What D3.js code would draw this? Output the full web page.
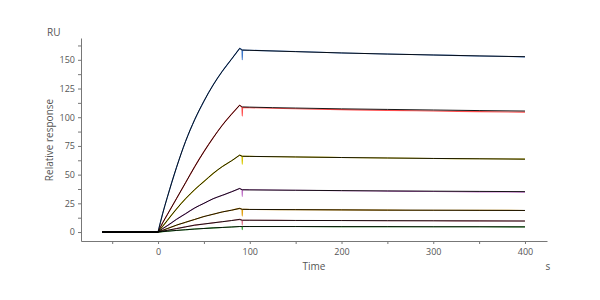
<!DOCTYPE html>
<html lang="en">
<head>
    <meta charset="UTF-8">
    <title>Relative response</title>
    <style>
        body{
            margin:0;
            background:#fff;
        }
        text{
            font-family:"Open Sans", sans-serif;
        }
    </style>
    <script src="https://cdn.jsdelivr.net/npm/d3@7/dist/d3.min.js"></script>
</head>
<body>
<div id='container'></div>
<script>
    // fitted curves (black)
    var fitTimes = [-61, 0, 5, 10, 20, 30, 40, 50, 60, 70, 80, 89, 92, 100, 150, 200, 250, 300, 350, 400];
    var fit1 = [0, 0, 16, 30, 56, 79, 98, 114, 128, 140, 150.5, 160, 158.5, 158.3, 157.1, 156, 155, 154.2, 153.4, 152.7];
    var fit2 = [0, 0, 8, 15, 29, 43, 57, 70, 82, 93, 102.5, 110.5, 109, 108.8, 108, 107.3, 106.8, 106.3, 105.8, 105.4];
    var fit3 = [0, 0, 5, 10, 20, 29, 37, 44, 51, 57, 62, 67, 66, 65.9, 65.4, 64.9, 64.5, 64.1, 63.8, 63.5];
    var fit4 = [0, 0, 3, 5.5, 11, 16, 21, 25, 29, 32, 35, 38, 36.8, 36.7, 36.4, 36.1, 35.8, 35.6, 35.4, 35.2];
    var fit5 = [0, 0, 1.5, 3, 6, 8.5, 11, 13.5, 15.5, 17.5, 19, 20.6, 19.8, 19.7, 19.5, 19.3, 19.1, 19, 18.9, 18.8];
    var fit6 = [0, 0, 0.8, 1.5, 3, 4.5, 6, 7, 8, 9, 10, 11, 10.3, 10.3, 10.1, 10, 9.9, 9.8, 9.7, 9.6];
    var fit7 = [0, 0, 0.4, 0.7, 1.4, 2, 2.6, 3.1, 3.6, 4, 4.4, 4.8, 4.8, 4.8, 4.8, 4.7, 4.7, 4.6, 4.6, 4.5];

    // measured curves (coloured), with the injection spike
    var dataTimes = [-61, 0, 5, 10, 20, 30, 40, 50, 60, 70, 80, 89, 91.5, 91.8, 92.2, 100, 150, 200, 250, 300, 350, 400];
    var data1 = [0, 0, 16, 30, 56, 79, 98, 114, 128, 140, 150.5, 160, 158.5, 150, 158.5, 158.3, 157.2, 156, 155, 154.2, 153.3, 152.6];
    var data2 = [0, 0, 8, 15, 29, 43, 57, 70, 82, 93, 102.5, 110.5, 108.5, 101, 108.5, 108.3, 107.4, 106.6, 106, 105.4, 104.9, 104.4];
    var data3 = [0, 0, 5, 10, 20, 29, 37, 44, 51, 57, 62, 67, 66, 59, 66, 65.9, 65.4, 64.9, 64.5, 64.1, 63.8, 63.5];
    var data4 = [0, 0, 3, 5.5, 11, 16, 21, 25, 29, 32, 35, 38, 37, 31, 37, 36.9, 36.4, 36, 35.6, 35.3, 35, 34.8];
    var data5 = [0, 0, 1.5, 3, 6, 8.5, 11, 13.5, 15.5, 17.5, 19, 20.6, 19.8, 14, 19.8, 19.7, 19.5, 19.3, 19.1, 19, 18.9, 18.8];
    var data6 = [0, 0, 0.8, 1.5, 3, 4.5, 6, 7, 8, 9, 10, 11, 10.3, 6, 10.3, 10.3, 10.1, 10, 9.9, 9.8, 9.7, 9.6];
    var data7 = [0, 0, 0.4, 0.7, 1.4, 2, 2.6, 3.1, 3.6, 4, 4.4, 4.8, 4.8, 2, 4.8, 4.8, 4.8, 4.7, 4.7, 4.6, 4.6, 4.5];

    var colors = ['#3d78cc', '#ff4d4d', '#d8c800', '#c070c8', '#e0a010', '#e07890', '#40b040'];
    var yTicks = [0, 12.5, 25, 37.5, 50, 62.5, 75, 87.5, 100, 112.5, 125, 137.5, 150, 162.5];
    var xTicks = [-50, 0, 50, 100, 150, 200, 250, 300, 350, 400];
    var injStart = 0, injEnd = 89;

    var w = 600, h = 300;
    var svg = d3.select('#container').append('svg').attr('width', w).attr('height', h);

    var xScale = d3.scaleLinear().domain([-84, 424]).range([81, 547]),
        yScale = d3.scaleLinear().domain([-7.8, 169]).range([241, 38]);

    var xAxis = d3.axisBottom(xScale).tickValues(xTicks).tickSize(3).tickSizeOuter(0)
            .tickFormat(function (d) { return d % 100 === 0 ? d : ''; }),
        yAxis = d3.axisLeft(yScale).tickValues(yTicks).tickSize(3).tickSizeOuter(0)
            .tickFormat(function (d) { return d % 25 === 0 ? d : ''; });

    var gx = svg.append('g').attr('transform', 'translate(0,241)').call(xAxis);
    var gy = svg.append('g').attr('transform', 'translate(81,0)').call(yAxis);
    [gx, gy].forEach(function (g) {
        g.select('.domain').attr('stroke', '#777');
        g.selectAll('.tick line').attr('stroke', '#777');
        g.selectAll('.tick text').attr('fill', '#555').attr('font-size', '9px')
            .attr('font-family', '"Open Sans", sans-serif');
    });
    gx.selectAll('.tick text').attr('dy', '0.9em');

    var line = d3.line()
            .curve(d3.curveMonotoneX)
            .x(function (d) { return xScale(d[0]); })
            .y(function (d) { return yScale(d[1]); });

    // baseline, association and dissociation are drawn as separate pieces so the corners stay sharp
    function pathFor(times, vals) {
        var pts = times.map(function (t, j) { return [t, vals[j]]; });
        var a = pts.filter(function (p) { return p[0] <= injStart; }),
            b = pts.filter(function (p) { return p[0] >= injStart && p[0] <= injEnd; }),
            c = pts.filter(function (p) { return p[0] >= injEnd; });
        return line(a) + line(b) + line(c);
    }

    var dataSets = [data1, data2, data3, data4, data5, data6, data7];
    var fitSets = [fit1, fit2, fit3, fit4, fit5, fit6, fit7];

    svg.selectAll('path.data').data(dataSets).enter().append('path')
            .attr('class', 'data')
            .attr('fill', 'none')
            .attr('stroke', function (d, i) { return colors[i]; })
            .attr('stroke-width', 1.1)
            .attr('d', function (d) { return pathFor(dataTimes, d); });

    svg.selectAll('path.fit').data(fitSets).enter().append('path')
            .attr('class', 'fit')
            .attr('fill', 'none')
            .attr('stroke', '#000')
            .attr('stroke-width', 0.9)
            .attr('d', function (d) { return pathFor(fitTimes, d); });

    svg.append('text').text('RU').attr('x', 47).attr('y', 36)
            .attr('font-size', '10px').attr('fill', '#555');
    svg.append('text').text('Relative response')
            .attr('transform', 'translate(53,140) rotate(-90)')
            .attr('text-anchor', 'middle').attr('font-size', '10px').attr('fill', '#555');
    svg.append('text').text('Time').attr('x', 314).attr('y', 270)
            .attr('text-anchor', 'middle').attr('font-size', '10px').attr('fill', '#555');
    svg.append('text').text('s').attr('x', 548).attr('y', 270)
            .attr('text-anchor', 'middle').attr('font-size', '10px').attr('fill', '#555');
</script>
</body>
</html>
